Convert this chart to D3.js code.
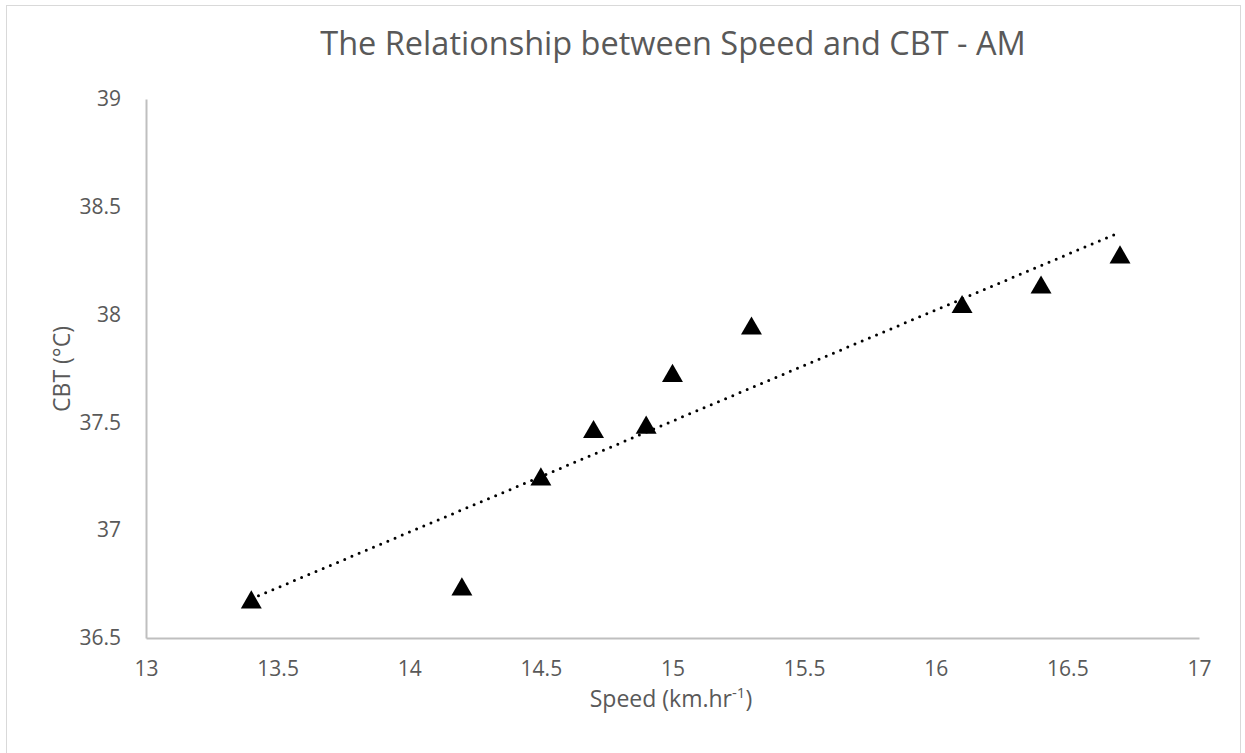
<!DOCTYPE html>
<html>
<head>
<meta charset="utf-8">
<script src="https://cdn.jsdelivr.net/npm/d3@7"></script>
<style>
  body { margin: 0; background: #fff; }
  text { font-family: "Open Sans", sans-serif; fill: #595959; }
</style>
</head>
<body>
<div id="chart"></div>
<script>
// speed (km/hr) vs core body temperature, morning
var speed = [13.4, 14.2, 14.5, 14.7, 14.9, 15.0, 15.3, 16.1, 16.4, 16.7];
var cbt = [36.67, 36.73, 37.24, 37.46, 37.48, 37.72, 37.94, 38.04, 38.13, 38.27];
var xTicks = [13, 13.5, 14, 14.5, 15, 15.5, 16, 16.5, 17];
var yTicks = [36.5, 37, 37.5, 38, 38.5, 39];

var width = 1245, height = 753,
  margin = {left: 146, right: 46, top: 99, bottom: 115};

var svg = d3.select("#chart").append("svg")
  .attr("width", width)
  .attr("height", height);

// outer chart border
svg.append("rect")
  .attr("x", 6.5).attr("y", 5.5)
  .attr("width", 1234).attr("height", 760)
  .attr("fill", "none")
  .attr("stroke", "#d9d9d9");

var x = d3.scaleLinear().domain([13, 17]).range([margin.left, width - margin.right]);
var y = d3.scaleLinear().domain([36.5, 39]).range([height - margin.bottom, margin.top]);

var xAxis = svg.append("g")
  .attr("transform", "translate(0," + y(36.5) + ")")
  .call(d3.axisBottom(x).tickValues(xTicks).tickSize(0).tickPadding(23).tickFormat(d3.format("")));
var yAxis = svg.append("g")
  .attr("transform", "translate(" + x(13) + ",0)")
  .call(d3.axisLeft(y).tickValues(yTicks).tickSize(0).tickPadding(25).tickFormat(d3.format("")));

[xAxis, yAxis].forEach(function (a) {
  a.select(".domain").attr("stroke", "#bfbfbf").attr("stroke-width", 2);
  a.selectAll("text").style("font-size", "21px").attr("fill", "#595959");
});

// linear trendline (least squares over the points)
var mx = d3.mean(speed), my = d3.mean(cbt);
var sxy = d3.sum(speed, function (d, i) { return (d - mx) * (cbt[i] - my); });
var sxx = d3.sum(speed, function (d) { return (d - mx) * (d - mx); });
var slope = sxy / sxx, icpt = my - slope * mx;
var ext = d3.extent(speed);

svg.append("path")
  .datum(ext)
  .attr("d", d3.line()
    .x(function (d) { return x(d); })
    .y(function (d) { return y(icpt + slope * d); }))
  .attr("fill", "none")
  .attr("stroke", "#000")
  .attr("stroke-width", 3)
  .attr("stroke-linecap", "round")
  .attr("stroke-dasharray", "0 7.8");

// triangle markers
var tri = d3.symbol().type(d3.symbolTriangle).size(190);
svg.selectAll(".pt")
  .data(speed)
  .enter().append("path")
  .attr("class", "pt")
  .attr("d", tri)
  .attr("transform", function (d, i) { return "translate(" + x(d) + "," + (y(cbt[i]) + 1) + ")"; })
  .attr("fill", "#000");

// titles
svg.append("text")
  .attr("x", 673).attr("y", 55)
  .attr("text-anchor", "middle")
  .style("font-size", "32.5px")
  .text("The Relationship between Speed and CBT - AM");

var xt = svg.append("text")
  .attr("x", 671).attr("y", 707)
  .attr("text-anchor", "middle")
  .style("font-size", "23px");
xt.append("tspan").text("Speed (km.hr");
xt.append("tspan").attr("dy", -9).style("font-size", "15px").text("-1");
xt.append("tspan").attr("dy", 9).text(")");

svg.append("text")
  .attr("transform", "translate(70,369) rotate(-90)")
  .attr("text-anchor", "middle")
  .style("font-size", "23px")
  .text("CBT (°C)");
</script>
</body>
</html>
